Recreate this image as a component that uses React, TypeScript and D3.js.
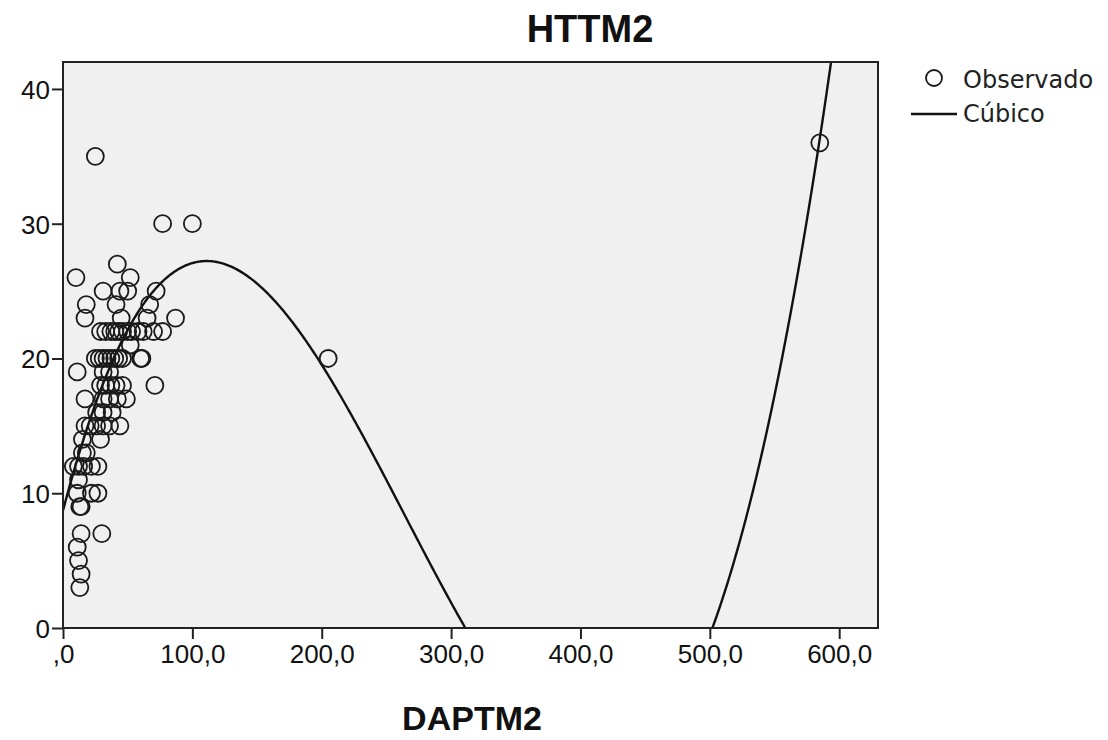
import React, { useEffect, useRef } from "react";
import * as d3 from "d3";

// observed points (DAPTM2 -> HTTM2)
const daptm2 = [
  25, 77, 100, 205, 585,
  42, 10, 52,
  31, 44, 50, 72,
  18, 41, 67,
  17, 45, 65, 87,
  29, 33, 37, 40, 43, 46, 50, 53, 58, 62, 70, 77,
  52,
  25, 28, 31, 34, 37, 40, 43, 46, 60, 61,
  11, 31, 36,
  29, 33, 37, 41, 46, 71,
  17, 31, 36, 42, 49,
  26, 31, 38,
  17, 21, 26, 31, 36, 44,
  15, 29,
  15, 18,
  8, 12, 16, 22, 27,
  12,
  11, 22, 27,
  13, 14,
  14, 30,
  11, 12, 14, 13,
];
const httm2 = [
  35, 30, 30, 20, 36,
  27, 26, 26,
  25, 25, 25, 25,
  24, 24, 24,
  23, 23, 23, 23,
  22, 22, 22, 22, 22, 22, 22, 22, 22, 22, 22, 22,
  21,
  20, 20, 20, 20, 20, 20, 20, 20, 20, 20,
  19, 19, 19,
  18, 18, 18, 18, 18, 18,
  17, 17, 17, 17, 17,
  16, 16, 16,
  15, 15, 15, 15, 15, 15,
  14, 14,
  13, 13,
  12, 12, 12, 12, 12,
  11,
  10, 10, 10,
  9, 9,
  7, 7,
  6, 5, 4, 3,
];

// fitted cubic model coefficients: b0 + b1*x + b2*x^2 + b3*x^3
const cubicCoef = [8.718, 0.36583, -2.0856e-3, 2.634e-6];

const xTicks = [0, 100, 200, 300, 400, 500, 600];
const yTicks = [0, 10, 20, 30, 40];

const App = () => {
  const svgRef = useRef<SVGSVGElement>(null);

  useEffect(() => {
    const svg = d3.select(svgRef.current);
    svg.selectAll("*").remove();

    const left = 63, right = 878, top = 62, bottom = 628;
    const x = d3.scaleLinear().domain([0, 630]).range([left, right]);
    const y = d3.scaleLinear().domain([0, 42]).range([bottom, top]);

    const tickFont = "'Liberation Sans', Arial, sans-serif";

    svg.append("rect")
      .attr("x", left).attr("y", top)
      .attr("width", right - left).attr("height", bottom - top)
      .attr("fill", "#f0f0f0");

    svg.append("defs").append("clipPath").attr("id", "plotclip")
      .append("rect")
      .attr("x", left).attr("y", top)
      .attr("width", right - left).attr("height", bottom - top);

    // x axis
    const xAxis = svg.append("g")
      .attr("transform", `translate(0,${bottom})`)
      .call(d3.axisBottom(x).tickValues(xTicks).tickSize(11).tickPadding(6)
        .tickFormat((d) => (+d === 0 ? ",0" : `${d},0`)));
    xAxis.select(".domain").remove();
    xAxis.selectAll("line").attr("stroke", "#222").attr("stroke-width", 2);
    xAxis.selectAll("text")
      .attr("font-family", tickFont).attr("font-size", 26).attr("fill", "#111");

    // y axis
    const yAxis = svg.append("g")
      .attr("transform", `translate(${left},0)`)
      .call(d3.axisLeft(y).tickValues(yTicks).tickSize(11).tickPadding(2));
    yAxis.select(".domain").remove();
    yAxis.selectAll("line").attr("stroke", "#222").attr("stroke-width", 2);
    yAxis.selectAll("text")
      .attr("font-family", tickFont).attr("font-size", 26).attr("fill", "#111")
      .attr("dy", "0.36em");

    // cubic fit
    const fx = (v: number) =>
      cubicCoef[0] + cubicCoef[1] * v + cubicCoef[2] * v * v + cubicCoef[3] * v * v * v;
    const xs = d3.range(0, 630.5, 1);
    const line = d3.line<number>().x((d) => x(d)).y((d) => y(fx(d)));
    svg.append("path")
      .datum(xs)
      .attr("clip-path", "url(#plotclip)")
      .attr("d", line)
      .attr("fill", "none")
      .attr("stroke", "#111")
      .attr("stroke-width", 2.4);

    // observed points
    svg.append("g")
      .attr("clip-path", "url(#plotclip)")
      .selectAll("circle")
      .data(daptm2.map((d, i) => [d, httm2[i]]))
      .join("circle")
      .attr("cx", (d) => x(d[0]))
      .attr("cy", (d) => y(d[1]))
      .attr("r", 8.5)
      .attr("fill", "none")
      .attr("stroke", "#1a1a1a")
      .attr("stroke-width", 1.8);

    // frame
    svg.append("rect")
      .attr("x", left).attr("y", top)
      .attr("width", right - left).attr("height", bottom - top)
      .attr("fill", "none")
      .attr("stroke", "#222")
      .attr("stroke-width", 2);

    // title + axis label
    svg.append("text")
      .attr("x", 590).attr("y", 42)
      .attr("text-anchor", "middle")
      .attr("font-family", tickFont)
      .attr("font-weight", "bold")
      .attr("font-size", 38)
      .attr("fill", "#111")
      .text("HTTM2");

    svg.append("text")
      .attr("x", 472).attr("y", 730)
      .attr("text-anchor", "middle")
      .attr("font-family", tickFont)
      .attr("font-weight", "bold")
      .attr("font-size", 34)
      .attr("fill", "#111")
      .text("DAPTM2");

    // legend
    const legendFont = "'DejaVu Sans', sans-serif";
    const lg = svg.append("g");
    lg.append("circle")
      .attr("cx", 934).attr("cy", 78).attr("r", 8)
      .attr("fill", "none").attr("stroke", "#1a1a1a").attr("stroke-width", 1.8);
    lg.append("text")
      .attr("x", 963).attr("y", 88)
      .attr("font-family", legendFont).attr("font-size", 24).attr("fill", "#222")
      .text("Observado");
    lg.append("line")
      .attr("x1", 911).attr("x2", 957).attr("y1", 114).attr("y2", 114)
      .attr("stroke", "#111").attr("stroke-width", 2.4);
    lg.append("text")
      .attr("x", 963).attr("y", 122)
      .attr("font-family", legendFont).attr("font-size", 24).attr("fill", "#222")
      .text("Cúbico");
  }, []);

  return (
    <svg
      ref={svgRef}
      width={1108}
      height={740}
      style={{ position: "absolute", left: 0, top: 0, background: "#fff" }}
    />
  );
};

export default App;
